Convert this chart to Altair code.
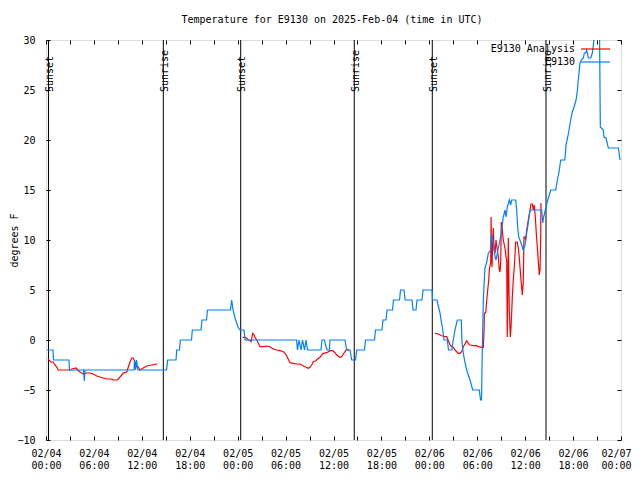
import altair as alt
import pandas as pd

FONT = "DejaVu Sans Mono"

title_text = "Temperature for E9130 on 2025-Feb-04 (time in UTC)"
y_title = "degrees F"
series_names = ["E9130 Analysis", "E9130"]
series_colors = ["#ff0000", "#0080ff"]

# hours since 02/04 00:00 UTC
event_names = ["Sunset", "Sunrise", "Sunset", "Sunrise", "Sunset", "Sunrise"]
event_hours = [0.31, 14.69, 24.38, 38.60, 48.37, 62.61]

x_ticks = list(range(0, 73, 3))
y_ticks = list(range(-10, 31, 5))

# observed temperature (hours, degF)
obs_points = [
    (0.13, -1), (0.88, -1), (0.94, -2), (2.88, -2), (2.94, -3), (4.70, -3), (4.80, -4.1), (4.88, -3),
    (11.02, -3), (11.08, -2), (11.21, -3), (11.33, -2), (11.52, -3), (15.09, -3), (15.24, -2),
    (16.28, -2), (16.37, -1), (16.72, -1), (16.82, 0), (18.22, 0), (18.32, 1), (19.41, 1), (19.53, 2),
    (20.10, 2), (20.22, 3), (23.10, 3), (23.25, 4), (23.42, 3), (23.67, 2.2), (23.88, 1.7), (24.04, 1.3),
    (24.29, 1), (24.79, 1), (24.92, 0), (31.37, 0), (31.49, -1), (31.68, 0), (31.93, -1), (32.12, 0),
    (32.37, -1), (32.56, 0), (32.75, -1), (34.43, -1), (34.56, 0), (34.87, 0), (35.00, -0.5), (35.19, -1),
    (35.50, -1), (35.56, 0), (37.44, 0), (37.65, -1), (38.07, -1), (38.28, -2), (38.76, -2), (38.91, -1),
    (39.88, -1), (40.01, 0), (41.13, 0), (41.26, 1), (42.07, 1), (42.20, 2), (42.57, 2), (42.70, 3),
    (43.39, 3), (43.51, 4), (44.27, 4), (44.39, 5), (44.83, 5), (44.96, 4), (45.83, 4), (45.96, 3),
    (46.33, 3), (46.46, 4), (47.08, 4), (47.21, 5), (48.34, 5), (48.40, 4), (48.96, 4), (49.09, 3.5),
    (49.34, 2.7), (49.46, 2), (49.65, 1.2), (49.84, 0), (50.25, 0), (50.40, -1), (50.84, -1), (50.90, -0.5),
    (51.00, 0), (51.21, 1), (51.50, 2), (52.00, 2), (52.09, -0.3), (52.25, -1.3), (52.47, -2.3), (52.68, -3),
    (52.88, -3.5), (53.09, -4), (53.43, -5), (54.26, -5), (54.41, -6), (54.53, -6), (54.63, -1.3),
    (54.76, 4), (54.85, 5.5), (54.97, 7.2), (55.19, 7.8), (55.39, 8.7), (55.69, 9), (55.81, 10.7),
    (55.94, 10), (56.10, 9.3), (56.23, 8.3), (56.35, 8), (56.52, 8.7), (56.64, 9.2), (56.85, 10),
    (57.06, 11), (57.26, 12.3), (57.48, 13), (57.60, 12.3), (57.76, 13.3), (58.01, 14), (58.19, 13.5),
    (58.31, 14), (58.81, 14), (58.94, 13), (59.06, 11.3), (59.19, 10.3), (59.35, 10), (59.56, 9.5),
    (59.76, 9), (59.98, 9.5), (60.19, 10.7), (60.39, 11.7), (60.61, 13), (62.07, 13), (62.20, 11.7),
    (62.32, 12.3), (62.52, 13), (62.61, 13.2), (62.73, 13.7), (62.90, 14.2), (63.02, 14.5), (63.20, 15),
    (63.83, 15), (63.93, 15.5), (64.03, 16), (64.24, 16.8), (64.45, 18), (64.95, 18), (65.03, 18.5),
    (65.11, 19.5), (65.33, 20.3), (65.49, 21), (65.70, 22), (65.90, 22.8), (66.12, 23.3), (66.37, 24),
    (66.55, 25), (66.65, 26), (66.87, 27.7), (67.03, 28), (67.28, 28.2), (67.41, 28.7), (67.58, 28.7),
    (67.71, 29), (67.91, 28.2), (68.21, 28.2), (68.41, 28.7), (68.62, 30), (68.75, 30.7), (68.96, 31.3),
    (69.31, 31), (69.41, 21.3), (69.79, 21), (69.87, 20.3), (70.12, 20.2), (70.41, 19.2), (71.67, 19.2),
    (71.88, 18),
]

# analysis temperature, three separate runs (hours, degF)
ana_run1 = [
    (0.25, -1.9), (0.63, -2.2), (0.91, -2.2), (1.13, -2.5), (1.34, -2.7), (1.54, -3), (3.01, -3),
    (3.22, -2.9), (3.76, -2.8), (3.97, -3), (4.26, -3.2), (4.47, -3.3), (4.67, -3.4), (5.10, -3.3),
    (5.51, -3.3), (5.92, -3.4), (6.35, -3.6), (6.76, -3.7), (7.18, -3.8), (7.60, -3.9), (8.23, -3.9),
    (8.43, -4), (8.93, -4), (9.27, -3.7), (9.68, -3.3), (10.11, -3.2), (10.31, -2.7), (10.52, -2.2),
    (10.73, -1.8), (10.93, -1.8), (11.14, -2.2), (11.36, -2.7), (11.56, -2.7), (11.77, -3), (11.98, -2.9),
    (12.18, -2.8), (12.61, -2.6), (13.24, -2.5), (13.86, -2.4), (13.94, -2.4),
]
ana_run2 = [
    (24.62, 0.27), (24.92, 0.27), (25.13, 0.17), (25.33, 0), (25.55, -0.07), (25.67, -0.17), (25.76, 0.17),
    (25.89, 0.67), (26.05, 0.5), (26.17, 0.27), (26.39, 0), (26.59, -0.33), (26.80, -0.67), (27.21, -0.67),
    (27.64, -0.6), (28.05, -0.67), (28.46, -0.9), (28.89, -1), (29.30, -1.07), (29.72, -1.17), (29.93, -1.33),
    (30.14, -1.6), (30.34, -1.93), (30.55, -2.27), (30.97, -2.33), (31.39, -2.4), (31.81, -2.4), (32.02, -2.5),
    (32.22, -2.6), (32.56, -2.73), (32.85, -2.83), (33.06, -2.73), (33.27, -2.5), (33.47, -2.17), (33.81, -2.07),
    (34.10, -1.83), (34.31, -1.73), (34.52, -1.5), (34.72, -1.33), (35.15, -1.27), (35.56, -1.07), (35.90, -1.07),
    (36.19, -1.27), (36.40, -1.5), (36.82, -1.73), (37.03, -1.67), (37.23, -1.4), (37.44, -1.17), (37.65, -0.93),
    (37.86, -1), (37.98, -1.07),
]
ana_run3 = [
    (48.71, 0.67), (49.13, 0.6), (49.55, 0.43), (49.96, 0.33), (50.17, 0.33), (50.38, -0.07), (50.59, -0.5),
    (50.80, -0.67), (51.00, -0.73), (51.21, -1), (51.43, -1.17), (51.63, -1.33), (51.84, -1.33), (52.06, -1.17),
    (52.25, -0.67), (52.47, -0.4), (52.68, -0.07), (52.88, -0.33), (53.09, -0.5), (53.51, -0.57), (53.94, -0.57),
    (54.13, -0.67), (54.56, -0.73), (54.76, -0.73), (54.85, 1), (54.89, 2.7), (55.06, 2.7), (55.19, 4),
    (55.31, 5), (55.44, 6), (55.51, 7), (55.69, 7.8), (55.73, 12.3), (55.81, 8), (55.85, 7.3), (55.94, 10),
    (56.02, 11.2), (56.10, 9), (56.23, 8.7), (56.35, 10), (56.43, 9.5), (56.51, 9), (56.64, 8.3), (56.76, 7),
    (56.85, 6.8), (56.94, 7.8), (57.01, 11.8), (57.14, 11), (57.26, 10), (57.39, 9.5), (57.51, 9), (57.60, 8.3),
    (57.69, 8), (57.76, 0.3), (57.89, 10.2), (58.01, 3), (58.14, 0.3), (58.23, 1.3), (58.31, 2.7), (58.39, 4.3),
    (58.51, 6), (58.64, 7.3), (58.73, 8.5), (58.81, 9.8), (59.01, 9.8), (59.14, 9.2), (59.26, 8.3), (59.35, 7.3),
    (59.48, 6), (59.56, 5.3), (59.64, 4.5), (59.76, 5.7), (59.85, 10.3), (59.98, 10.3), (60.06, 10),
    (60.19, 11), (60.39, 12), (60.61, 13), (60.73, 13.6), (60.90, 13.6), (61.02, 13), (61.14, 13.5),
    (61.27, 12.3), (61.39, 10.7), (61.52, 9.3), (61.64, 8), (61.77, 6.5), (61.86, 7), (61.94, 10), (61.98, 13.7),
]

obs_df = pd.DataFrame(obs_points, columns=["hour", "temp"])
ana_frames = []
for i, run in enumerate([ana_run1, ana_run2, ana_run3]):
    d = pd.DataFrame(run, columns=["hour", "temp"])
    d["run"] = i
    ana_frames.append(d)
ana_df = pd.concat(ana_frames, ignore_index=True)
events_df = pd.DataFrame({"hour": event_hours, "name": event_names})
legend_df = pd.DataFrame({"name": series_names, "color": series_colors, "row": [0, 1]})

xscale = alt.Scale(domain=[0, 72], nice=False, zero=False)
yscale = alt.Scale(domain=[-10, 30], nice=False, zero=False)

label_expr = (
    "datum.value % 6 == 0 ? ['02/0' + (4 + floor(datum.value / 24)), "
    "(datum.value % 24 < 10 ? '0' : '') + (datum.value % 24) + ':00'] : ''"
)

x_bottom = alt.Axis(orient="bottom", values=x_ticks, labelExpr=label_expr, offset=-4, tickSize=4,
                    labelPadding=8, labelLineHeight=12, labelBaseline="top", labelFont=FONT,
                    labelFontSize=10, labelColor="black", tickColor="black", domain=False,
                    grid=False, title=None, labelOverlap=False, labelFlush=False,
                    labelOffset={"condition": {"test": "datum.value == 72", "value": -5}, "value": 0})
y_left = alt.Axis(orient="left", values=y_ticks, offset=-4, tickSize=4, labelPadding=11,
                  labelFont=FONT, labelFontSize=10, labelColor="black", tickColor="black",
                  domain=False, grid=False, title=y_title, titleFont=FONT, titleFontSize=10,
                  titleFontWeight="normal", titleColor="black", titleAngle=270, titleX=-36,
                  titleY=200, titleAlign="center", titleBaseline="middle", labelFlush=False)
x_top = alt.Axis(orient="top", values=x_ticks, offset=-4, tickSize=4, labels=False, domain=False,
                 grid=False, title=None, tickColor="black")
y_right = alt.Axis(orient="right", values=y_ticks, offset=-4, tickSize=4, labels=False, domain=False,
                   grid=False, title=None, tickColor="black")

rules = alt.Chart(events_df).mark_rule(color="black", strokeWidth=1).encode(
    x=alt.X("hour:Q", scale=xscale, axis=None)
)
event_text = alt.Chart(events_df).mark_text(
    font=FONT, fontSize=10, angle=270, align="left", baseline="middle", dy=1.5, color="black"
).encode(
    x=alt.X("hour:Q", scale=xscale, axis=None),
    y=alt.value(52),
    text="name:N",
)

ana_line = alt.Chart(ana_df).mark_line(color=series_colors[0], strokeWidth=1.2, clip=True).encode(
    x=alt.X("hour:Q", scale=xscale, axis=x_bottom),
    y=alt.Y("temp:Q", scale=yscale, axis=y_left),
    detail="run:N",
    order="hour:Q",
)
obs_line = alt.Chart(obs_df).mark_line(color=series_colors[1], strokeWidth=1.2, clip=True).encode(
    x=alt.X("hour:Q", scale=xscale, axis=x_top),
    y=alt.Y("temp:Q", scale=yscale, axis=y_right),
    order="hour:Q",
)

# legend drawn in gnuplot style (label left of the line sample), rows 13 px apart
legend_base = alt.Chart(legend_df).transform_calculate(py="9 + 13 * datum.row")
legend_text = legend_base.mark_text(
    font=FONT, fontSize=10, align="right", baseline="middle", color="black"
).encode(
    x=alt.value(529),
    y=alt.Y("py:Q", scale=None, axis=None),
    text="name:N",
)
legend_lines = legend_base.mark_rule(strokeWidth=1.2).encode(
    x=alt.value(535),
    x2=alt.value(564),
    y=alt.Y("py:Q", scale=None, axis=None),
    color=alt.Color("color:N", scale=None),
)

title_mark = alt.Chart(pd.DataFrame({"t": [title_text]})).mark_text(
    font=FONT, fontSize=10, align="center", baseline="alphabetic", color="black"
).encode(x=alt.value(286), y=alt.value(-17), text="t:N")

chart = alt.layer(
    rules, event_text, ana_line, obs_line, legend_text, legend_lines, title_mark
).resolve_axis(x="independent", y="independent").properties(
    width=575,
    height=400,
    autosize=alt.AutoSizeParams(type="none"),
    padding={"left": 38, "top": 32, "right": 11, "bottom": 32},
).configure_view(stroke="black", strokeWidth=1).configure(background="white")

chart.save("out.html", embed_options={"renderer": "svg", "actions": False})
